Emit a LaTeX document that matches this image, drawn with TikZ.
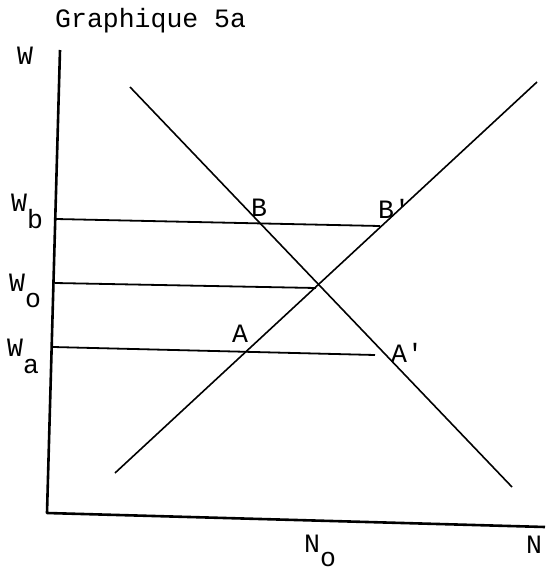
\documentclass[tikz,border=0pt]{standalone}
\usepackage{fontspec}
\setmonofont{Liberation Mono}
\usepackage{tikz}

\tikzset{
  lbl/.style={font=\ttfamily\fontsize{26.5}{26.5}\selectfont, inner sep=0pt, anchor=base west},
  axisline/.style={line width=2.6pt},
  curve/.style={line width=1.6pt},
  level/.style={line width=1.8pt}
}

\begin{document}
\begin{tikzpicture}[x=1pt,y=-1pt]
    \useasboundingbox (0,0) rectangle (547,573);

    % Title
    \node[lbl] (title) at (55,27) {Graphique 5a};

    % Axes
    \coordinate (top) at (60,50);
    \coordinate (origin) at (47,513);
    \coordinate (right) at (545,527);
    \draw[axisline, line join=round] (top) -- (origin) -- (right);
    \node[lbl] (wlab) at (17,64) {W};
    \node[lbl] (nlab) at (526,553) {N};

    % Demand and supply
    \coordinate (d1) at (130,87);
    \coordinate (d2) at (512,487);
    \coordinate (s1) at (115,473);
    \coordinate (s2) at (537,82);
    \draw[curve] (d1) -- (d2);
    \draw[curve] (s1) -- (s2);

    % Wage levels
    \coordinate (wb1) at (56,219);
    \coordinate (wb2) at (380,226);
    \coordinate (wo1) at (55,283);
    \coordinate (wo2) at (316,288);
    \coordinate (wa1) at (53,347);
    \coordinate (wa2) at (375,355);
    \draw[level] (wb1) -- (wb2);
    \draw[level] (wo1) -- (wo2);
    \draw[level] (wa1) -- (wa2);

    \node[lbl] (wb) at (11,211) {W\raisebox{-17pt}{b}};
    \node[lbl] (wo) at (9,291) {W\raisebox{-16pt}{o}};
    \node[lbl] (wa) at (7,356) {W\raisebox{-17pt}{a}};

    % Points
    \node[lbl] (b) at (251,216) {B};
    \node[lbl] (bp) at (378,218) {B'};
    \node[lbl] (a) at (232,342) {A};
    \node[lbl] (ap) at (391,362) {A'};
    \node[lbl] (no) at (304,552) {N\raisebox{-14pt}{o}};
\end{tikzpicture}
\end{document}
